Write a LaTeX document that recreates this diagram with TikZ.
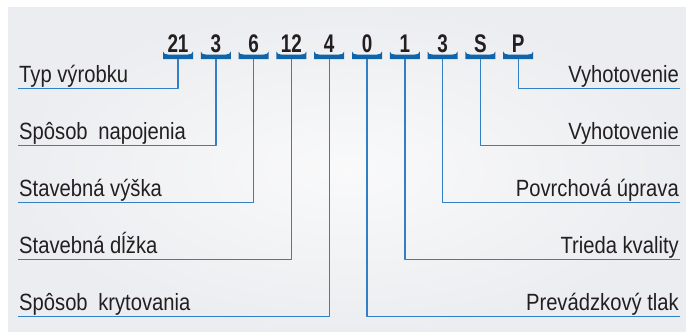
\documentclass[tikz,border=0pt]{standalone}
\usepackage{fontspec}
\setmainfont{Liberation Sans}
\newfontfamily\labelfont[FakeStretch=0.86]{Liberation Sans}
\newfontfamily\codefont[FakeStretch=0.74]{Liberation Sans Bold}
\usetikzlibrary{positioning}
\definecolor{brk}{RGB}{16,100,170}
\definecolor{lnk}{RGB}{50,128,196}
\definecolor{bgc}{RGB}{236,237,240}
\definecolor{ink}{RGB}{35,31,32}

\begin{document}
\begin{tikzpicture}[x=1pt,y=-1pt,line join=round,
  codetxt/.style={font=\codefont\fontsize{25.5}{25.5}\selectfont,text=ink,inner sep=0pt,anchor=base},
  lbl/.style={font=\labelfont\fontsize{23.5}{23.5}\selectfont,text=ink,inner sep=0pt},
  wire/.style={lnk,line width=1.4pt}]
  \useasboundingbox (0,0) rectangle (686,332);
  \shade[inner color=white!70!bgc,outer color=bgc] (8,7) rectangle (686,332);
  % code digits with brackets
  \foreach \t [count=\i] in {21,3,6,12,4,0,1,3,S,P} {
    \node[codetxt] (c\i) at ({178+37.8*(\i-1)},52.5) {\t};
    \coordinate (b\i) at ({178+37.8*(\i-1)},59);
    \fill[brk,shift={(b\i)}] (-15,-7.5) .. controls (-14,-5) and (-13,-4.5) .. (-10,-4.5) -- (10,-4.5) .. controls (13,-4.5) and (14,-5) .. (15,-7.5) -- (15,0) -- (-15,0) -- cycle;
  }
  % left side
  \foreach \txt [count=\i] in {Typ výrobku,Spôsob\hspace{0.45em}napojenia,Stavebná výška,Stavebná dĺžka,Spôsob\hspace{0.45em}krytovania} {
    \coordinate (l\i) at (18,{88.5+57*(\i-1)});
    \draw[wire] (b\i) |- (l\i);
    \node[lbl,anchor=base west] (tl\i) at ([xshift=1pt,yshift=6pt]l\i) {\txt};
  }
  % right side
  \foreach \txt/\k [count=\i] in {Vyhotovenie/10,Vyhotovenie/9,Povrchová úprava/8,Trieda kvality/7,Prevádzkový tlak/6} {
    \coordinate (r\i) at (680,{88.5+57*(\i-1)});
    \draw[wire] (b\k) |- (r\i);
    \node[lbl,anchor=base east] (tr\i) at ([xshift=-1pt,yshift=6pt]r\i) {\txt};
  }
\end{tikzpicture}
\end{document}
